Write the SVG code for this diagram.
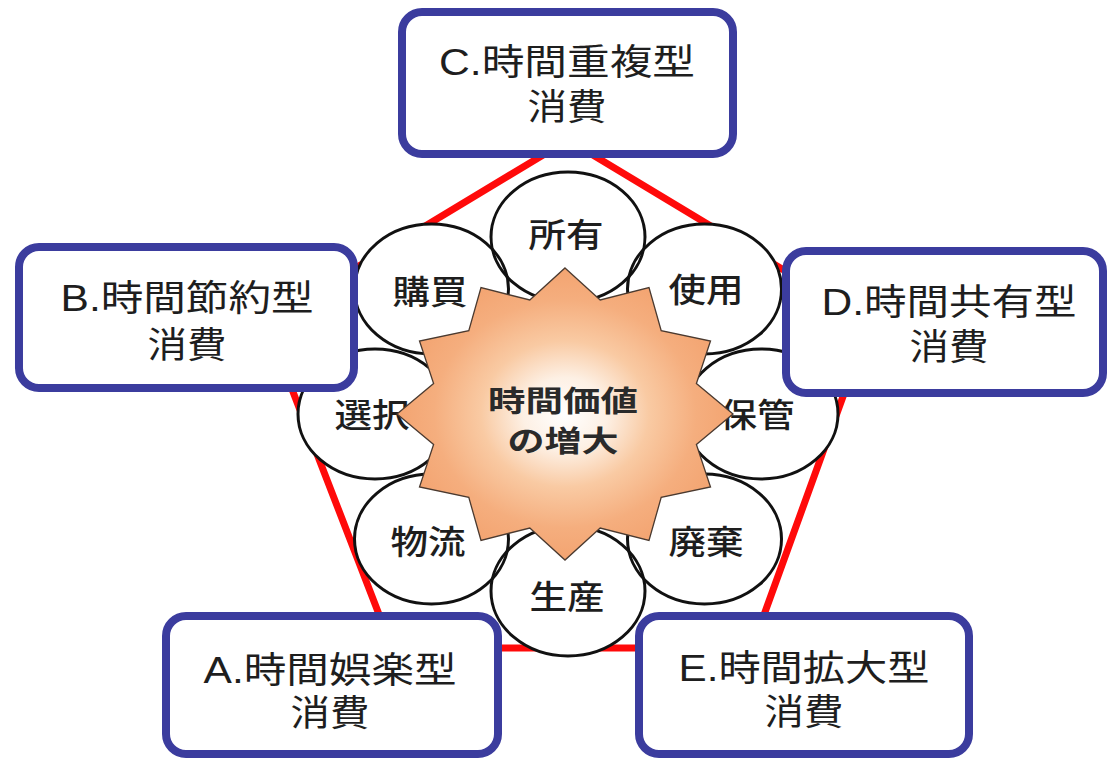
<svg xmlns="http://www.w3.org/2000/svg" width="1107" height="758" viewBox="0 0 1107 758">
<style>
.box{fill:#ffffff;stroke:#3b3c9e;stroke-width:8}
.bt{font-family:"Liberation Sans","Noto Sans CJK JP",sans-serif;font-size:36px;fill:#1e1e1e;text-anchor:middle;dominant-baseline:central}
.cf{fill:#ffffff;stroke:none}
.co{fill:none;stroke:#111111;stroke-width:3}
.ct{font-family:"Noto Sans CJK JP",sans-serif;font-size:33px;font-weight:500;fill:#1e1e1e;text-anchor:middle;dominant-baseline:central}
.st{font-family:"Noto Sans CJK JP",sans-serif;font-size:29px;font-weight:700;fill:#2a2a2a;text-anchor:middle;dominant-baseline:central}
.pent{fill:none;stroke:#ff0a0a;stroke-width:7;stroke-linejoin:miter}
</style>
<defs>
<radialGradient id="glow" cx="0.5" cy="0.5" r="0.5">
<stop offset="0" stop-color="#ffffff"/>
<stop offset="0.25" stop-color="#fdf0e4"/>
<stop offset="0.5" stop-color="#f9caa3"/>
<stop offset="0.78" stop-color="#f5ae7e"/>
<stop offset="1" stop-color="#f3a471"/>
</radialGradient>
</defs>
<rect x="0" y="0" width="1107" height="758" fill="#ffffff"/>
<g id="connectors">
<polygon class="pent" points="568,140 870,322 752,648 392,648 266,322"/>
</g>
<g id="circles">
<g id="circle-fills">
<ellipse class="cf" cx="761" cy="414" rx="77" ry="65"/>
<ellipse class="cf" cx="704.5" cy="539" rx="77" ry="65"/>
<ellipse class="cf" cx="568" cy="591" rx="77" ry="65"/>
<ellipse class="cf" cx="431.5" cy="539" rx="77" ry="65"/>
<ellipse class="cf" cx="375" cy="414" rx="77" ry="65"/>
<ellipse class="cf" cx="431.5" cy="289" rx="77" ry="65"/>
<ellipse class="cf" cx="568" cy="237" rx="77" ry="65"/>
<ellipse class="cf" cx="704.5" cy="289" rx="77" ry="65"/>
</g>
<g id="c-hokan"><ellipse class="co" cx="761" cy="414" rx="77" ry="65"/><text class="ct" x="757" y="413" textLength="75" lengthAdjust="spacingAndGlyphs">保管</text></g>
<g id="c-haiki"><ellipse class="co" cx="704.5" cy="539" rx="77" ry="65"/><text class="ct" x="706" y="540" textLength="75" lengthAdjust="spacingAndGlyphs">廃棄</text></g>
<g id="c-seisan"><ellipse class="co" cx="568" cy="591" rx="77" ry="65"/><text class="ct" x="567" y="595" textLength="75" lengthAdjust="spacingAndGlyphs">生産</text></g>
<g id="c-butsuryu"><ellipse class="co" cx="431.5" cy="539" rx="77" ry="65"/><text class="ct" x="428" y="540" textLength="75" lengthAdjust="spacingAndGlyphs">物流</text></g>
<g id="c-sentaku"><ellipse class="co" cx="375" cy="414" rx="77" ry="65"/><text class="ct" x="372" y="413" textLength="75" lengthAdjust="spacingAndGlyphs">選択</text></g>
<g id="c-konyu"><ellipse class="co" cx="431.5" cy="289" rx="77" ry="65"/><text class="ct" x="430" y="290" textLength="75" lengthAdjust="spacingAndGlyphs">購買</text></g>
<g id="c-shoyu"><ellipse class="co" cx="568" cy="237" rx="77" ry="65"/><text class="ct" x="566" y="233" textLength="75" lengthAdjust="spacingAndGlyphs">所有</text></g>
<g id="c-shiyo"><ellipse class="co" cx="704.5" cy="289" rx="77" ry="65"/><text class="ct" x="706" y="288" textLength="75" lengthAdjust="spacingAndGlyphs">使用</text></g>
</g>
<g id="star">
<polygon fill="url(#glow)" stroke="#4a3a30" stroke-width="1.3" points="565,268 600.2,300 649,287.6 661.2,330.6 710.5,341 696.4,383.5 733,414 696.4,444.5 710.5,487 661.2,497.4 649,540.4 600.2,528 565,560 529.8,528 481,540.4 468.8,497.4 419.5,487 433.6,444.5 397,414 433.6,383.5 419.5,341 468.8,330.6 481,287.6 529.8,300"/>
<text class="st" x="563" y="399" textLength="150" lengthAdjust="spacingAndGlyphs">時間価値</text>
<text class="st" x="563" y="439" textLength="111" lengthAdjust="spacingAndGlyphs">の増大</text>
</g>
<g id="box-c">
<rect class="box" x="402" y="12" width="331" height="142" rx="20"/>
<text class="bt" x="567" y="62" textLength="256" lengthAdjust="spacingAndGlyphs">C.時間重複型</text>
<text class="bt" x="567" y="107" textLength="79" lengthAdjust="spacingAndGlyphs">消費</text>
</g>
<g id="box-b">
<rect class="box" x="19" y="247" width="335" height="141" rx="20"/>
<text class="bt" x="187" y="298" textLength="253" lengthAdjust="spacingAndGlyphs">B.時間節約型</text>
<text class="bt" x="187" y="345" textLength="79" lengthAdjust="spacingAndGlyphs">消費</text>
</g>
<g id="box-d">
<rect class="box" x="786" y="251" width="317" height="142" rx="20"/>
<text class="bt" x="949" y="302" textLength="255" lengthAdjust="spacingAndGlyphs">D.時間共有型</text>
<text class="bt" x="949" y="347" textLength="79" lengthAdjust="spacingAndGlyphs">消費</text>
</g>
<g id="box-a">
<rect class="box" x="166" y="616" width="332" height="138" rx="20"/>
<text class="bt" x="330" y="670" textLength="253" lengthAdjust="spacingAndGlyphs">A.時間娯楽型</text>
<text class="bt" x="330" y="713" textLength="79" lengthAdjust="spacingAndGlyphs">消費</text>
</g>
<g id="box-e">
<rect class="box" x="639" y="616" width="330" height="138" rx="20"/>
<text class="bt" x="804" y="668" textLength="251" lengthAdjust="spacingAndGlyphs">E.時間拡大型</text>
<text class="bt" x="804" y="712" textLength="79" lengthAdjust="spacingAndGlyphs">消費</text>
</g>
</svg>
